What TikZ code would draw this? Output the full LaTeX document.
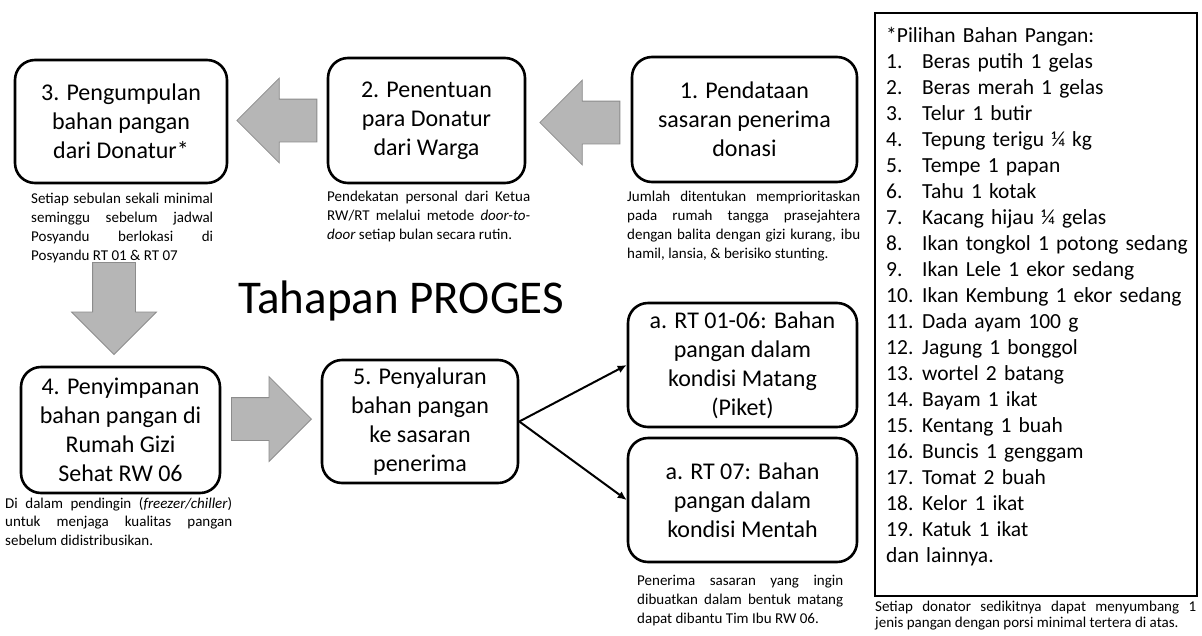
\documentclass[tikz,border=0pt]{standalone}
\usepackage{fontspec}
\setmainfont{Carlito}
\usepackage{xcolor}
\usepackage{tikz}
\usetikzlibrary{calc}
\usetikzlibrary{shapes.arrows,arrows.meta}

\definecolor{abu}{RGB}{182,182,182}
\definecolor{abutepi}{RGB}{140,140,140}
\newcommand{\nomor}[1]{\makebox[36pt][l]{#1}}
\newcommand{\hurufket}{\fontsize{15}{18.8}\selectfont\tolerance=10000 \hbadness=10000 \hyphenpenalty=10000 \exhyphenpenalty=10000 }

\begin{document}
\begin{tikzpicture}[x=1pt,y=-1pt,
    kotak/.style={draw, line width=2.6pt, rounded corners=20pt, align=center, inner sep=0pt, font=\fontsize{24}{29}\selectfont},
    panah/.style={single arrow, anchor=tip, fill=abu, draw=abutepi, line width=0.8pt, inner xsep=0pt, inner ysep=21pt, single arrow head extend=21pt, minimum height=80pt},
    ket/.style={anchor=north west, inner sep=0pt, align=justify, font=\hurufket},
    garis/.style={-{Latex[length=9pt,width=8pt]}, line width=2pt}]
        %BATAS
        \useasboundingbox (0,0) rectangle (1202,635);
        %KOTAK
        \node[kotak, minimum width=212pt, minimum height=123pt] (K3) at (121,121.5) {3. Pengumpulan\\bahan pangan\\dari Donatur*};
        \node[kotak, minimum width=197pt, minimum height=125pt] (K2) at (426.5,120.5) {2. Penentuan\\para Donatur\\dari Warga};
        \node[kotak, minimum width=225pt, minimum height=125pt] (K1) at (744.5,119.5) {1. Pendataan\\sasaran penerima\\donasi};
        \node[kotak, minimum width=199pt, minimum height=126pt] (K4) at (120.5,430) {4. Penyimpanan\\bahan pangan di\\Rumah Gizi\\Sehat RW 06};
        \node[kotak, minimum width=196pt, minimum height=123pt] (K5) at (420,421.5) {5. Penyaluran\\bahan pangan\\ke sasaran\\penerima};
        \node[kotak, minimum width=229pt, minimum height=124pt] (Ka) at (742.5,365) {a. RT 01-06: Bahan\\pangan dalam\\kondisi Matang\\(Piket)};
        \node[kotak, minimum width=229pt, minimum height=124pt] (Kb) at (742.5,500) {a. RT 07: Bahan\\pangan dalam\\kondisi Mentah};
        %PANAH
        \node[panah, rotate=180] (P1) at ($(K3.east)+(8,-1)$) {};
        \node[panah, rotate=180] (P2) at ($(K2.east)+(13,2)$) {};
        \node[panah, rotate=-90, minimum height=92pt] (P3) at (114,355) {};
        \node[panah] (P4) at (312,419) {};
        %GARIS
        \draw[garis] (K5.east) -- (Ka.west);
        \draw[garis] (K5.east) -- (Kb.west);
        %JUDUL
        \node[font=\fontsize{47}{50}\selectfont] (judul) at (401,301) {Tahapan PROGES};
        %KETERANGAN
        \node[ket, text width=182pt] (T3) at (31,193) {Setiap sebulan sekali minimal\linebreak seminggu sebelum jadwal\linebreak Posyandu berlokasi di\linebreak Posyandu RT 01 \& RT 07};
        \node[ket, text width=203pt] (T2) at (327,191) {Pendekatan personal dari Ketua\linebreak RW/RT melalui metode \textit{door-to-}\linebreak\textit{door} setiap bulan secara rutin.};
        \node[ket, text width=233pt] (T1) at (627,191) {Jumlah ditentukan memprioritaskan\linebreak pada rumah tangga prasejahtera\linebreak dengan balita dengan gizi kurang, ibu\linebreak hamil, lansia, \& berisiko stunting.};
        \node[ket, text width=227pt] (T4) at (5,497) {Di dalam pendingin (\textit{freezer/chiller})\linebreak untuk menjaga kualitas pangan\linebreak sebelum didistribusikan.};
        \node[ket, text width=206pt] (Tb) at (637,575) {Penerima sasaran yang ingin\linebreak dibuatkan dalam bentuk matang\linebreak dapat dibantu Tim Ibu RW 06.};
        %DAFTAR
        \node[draw, line width=1.8pt, minimum width=322pt, minimum height=583pt, inner sep=0pt] (D) at (1036,304.5) {};
        \node[anchor=north west, inner sep=0pt, text width=305pt, align=left, font=\fontsize{21.5}{26}\selectfont] (isi) at (886,27) {*Pilihan Bahan Pangan:\\
            \nomor{1.}Beras putih 1 gelas\\
            \nomor{2.}Beras merah 1 gelas\\
            \nomor{3.}Telur 1 butir\\
            \nomor{4.}Tepung terigu ¼ kg\\
            \nomor{5.}Tempe 1 papan\\
            \nomor{6.}Tahu 1 kotak\\
            \nomor{7.}Kacang hijau ¼ gelas\\
            \nomor{8.}Ikan tongkol 1 potong sedang\\
            \nomor{9.}Ikan Lele 1 ekor sedang\\
            \nomor{10.}Ikan Kembung 1 ekor sedang\\
            \nomor{11.}Dada ayam 100 g\\
            \nomor{12.}Jagung 1 bonggol\\
            \nomor{13.}wortel 2 batang\\
            \nomor{14.}Bayam 1 ikat\\
            \nomor{15.}Kentang 1 buah\\
            \nomor{16.}Buncis 1 genggam\\
            \nomor{17.}Tomat 2 buah\\
            \nomor{18.}Kelor 1 ikat\\
            \nomor{19.}Katuk 1 ikat\\
            dan lainnya.};
        \node[ket, text width=321pt, font=\fontsize{15}{16}\selectfont] (TD) at (875,601) {Setiap donator sedikitnya dapat menyumbang 1\linebreak jenis pangan dengan porsi minimal tertera di atas.};
    \end{tikzpicture}
\end{document}
